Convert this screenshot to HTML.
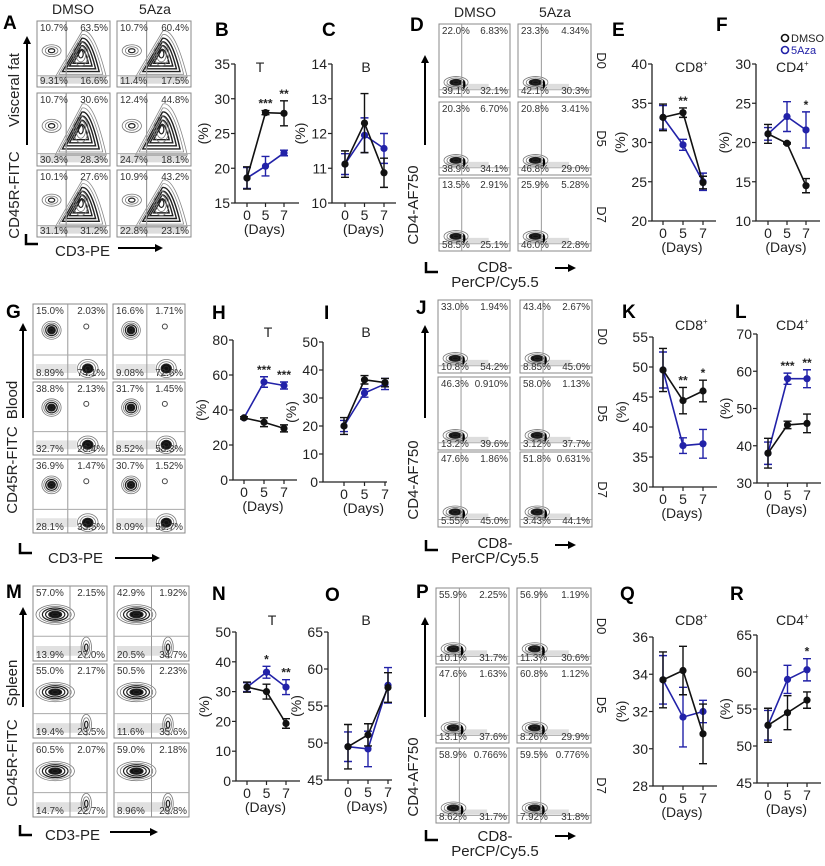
<!DOCTYPE html>
<html><head><meta charset="utf-8">
<style>
html,body{margin:0;padding:0;background:#fff;}
svg{display:block;font-family:"Liberation Sans",Arial,sans-serif;}
</style></head>
<body>
<svg id="fig" width="825" height="866" viewBox="0 0 825 866" xmlns="http://www.w3.org/2000/svg"></svg>
<script>
// ---- chart data ----
const days = ['0','5','7'];
const bDmso=[18.6,28.0,27.9], bDmsoErr=[1.6,0.3,1.8], bAza=[18.6,20.3,22.2], bAzaErr=[1.5,1.4,0.4];
const cDmso=[11.12,12.3,10.87], cDmsoErr=[0.38,0.85,0.42], cAza=[11.12,11.95,11.57], cAzaErr=[0.3,0.5,0.43];
const eDmso=[33.2,33.8,24.9], eDmsoErr=[1.7,0.6,0.8], eAza=[33.2,29.7,25.0], eAzaErr=[1.5,0.7,1.1];
const fDmso=[21.1,19.9,14.5], fDmsoErr=[1.2,0.1,0.9], fAza=[21.1,23.3,21.6], fAzaErr=[0.8,1.9,2.3];
const hDmso=[35.5,33.0,29.5], hDmsoErr=[0.6,2.5,2.0], hAza=[35.5,56.0,54.0], hAzaErr=[0.6,3.0,2.0];
const iDmso=[20.0,36.5,35.5], iDmsoErr=[3.0,1.5,1.5], iAza=[20.0,31.8,35.0], iAzaErr=[2.0,1.5,2.0];
const kDmso=[49.5,44.4,46.0], kDmsoErr=[3.6,2.2,1.8], kAza=[49.5,36.9,37.2], kAzaErr=[3.0,1.3,2.4];
const lDmso=[38.0,45.6,46.0], lDmsoErr=[4.0,1.0,2.5], lAza=[38.0,58.0,58.0], lAzaErr=[3.0,1.5,2.4];
const nDmso=[31.5,30.0,19.3], nDmsoErr=[1.7,2.5,1.6], nAza=[31.5,36.5,31.5], nAzaErr=[1.5,2.0,2.5];
const oDmso=[49.5,51.1,57.5], oDmsoErr=[3.0,1.5,2.0], oAza=[49.5,49.2,57.8], oAzaErr=[2.0,2.4,2.4];
const qDmso=[33.7,34.2,30.8], qDmsoErr=[1.5,1.3,1.6], qAza=[33.7,31.7,32.0], qAzaErr=[1.3,1.6,0.6];
const rDmso=[52.8,54.5,56.2], rDmsoErr=[2.3,2.3,1.1], rAza=[52.8,59.0,60.3], rAzaErr=[2.0,1.9,1.5];
const bTicks=[15,20,25,30,35], cTicks=[10,11,12,13,14], eTicks=[20,25,30,35,40], fTicks=[10,15,20,25,30];
const hTicks=[0,20,40,60,80], iTicks=[0,10,20,30,40,50], kTicks=[30,35,40,45,50,55], lTicks=[30,40,50,60,70];
const nTicks=[0,10,20,30,40,50], oTicks=[45,50,55,60,65], qTicks=[28,30,32,34,36], rTicks=[45,50,55,60,65];
const bStars=['','***','**'], cStars=['','',''], eStars=['','**',''], fStars=['','','*'];
const hStars=['','***','***'], iStars=['','',''], kStars=['','**','*'], lStars=['','***','**'];
const nStars=['','*','**'], oStars=['','',''], qStars=['','',''], rStars=['','','*'];
// flow percentages [UL,UR,LL,LR] per plot, row-major (DMSO, 5Aza)
const aPct=[['10.7%','63.5%','9.31%','16.6%'],['10.7%','60.4%','11.4%','17.5%'],['10.7%','30.6%','30.3%','28.3%'],['12.4%','44.8%','24.7%','18.1%'],['10.1%','27.6%','31.1%','31.2%'],['10.9%','43.2%','22.8%','23.1%']];
const dPct=[['22.0%','6.83%','39.1%','32.1%'],['23.3%','4.34%','42.1%','30.3%'],['20.3%','6.70%','38.9%','34.1%'],['20.8%','3.41%','46.8%','29.0%'],['13.5%','2.91%','58.5%','25.1%'],['25.9%','5.28%','46.0%','22.8%']];
const gPct=[['15.0%','2.03%','8.89%','74.1%'],['16.6%','1.71%','9.08%','72.6%'],['38.8%','2.13%','32.7%','26.4%'],['31.7%','1.45%','8.52%','58.3%'],['36.9%','1.47%','28.1%','33.5%'],['30.7%','1.52%','8.09%','59.7%']];
const jPct=[['33.0%','1.94%','10.8%','54.2%'],['43.4%','2.67%','8.85%','45.0%'],['46.3%','0.910%','13.2%','39.6%'],['58.0%','1.13%','3.12%','37.7%'],['47.6%','1.86%','5.55%','45.0%'],['51.8%','0.631%','3.43%','44.1%']];
const mPct=[['57.0%','2.15%','13.9%','27.0%'],['42.9%','1.92%','20.5%','34.7%'],['55.0%','2.17%','19.4%','23.5%'],['50.5%','2.23%','11.6%','35.6%'],['60.5%','2.07%','14.7%','22.7%'],['59.0%','2.18%','8.96%','29.8%']];
const pPct=[['55.9%','2.25%','10.1%','31.7%'],['56.9%','1.19%','11.3%','30.6%'],['47.6%','1.63%','13.1%','37.6%'],['60.8%','1.12%','8.26%','29.9%'],['58.9%','0.766%','8.62%','31.7%'],['59.5%','0.776%','7.92%','31.8%']];

const svg=document.getElementById('fig');
const NS='http://www.w3.org/2000/svg';
const BLUE='#2222a8';
function el(tag,attrs,parent){const e=document.createElementNS(NS,tag);for(const k in attrs)e.setAttribute(k,attrs[k]);(parent||svg).appendChild(e);return e;}
function txt(s,attrs,parent){const e=el('text',attrs,parent);e.textContent=s;return e;}

function chart(id,cfg,dm,dmE,az,azE,ticks,stars,title){
  const g=el('g',{});
  
  
  const lo=ticks[0],hi=ticks[ticks.length-1];
  const y=v=>cfg.bot-(v-lo)/(hi-lo)*(cfg.bot-cfg.top);
  const x=i=>cfg.cx0+i*cfg.step;
  const ax=el('path',{d:`M${cfg.ax},${cfg.top}V${cfg.bot}H${cfg.ax+64}`,stroke:'#222','stroke-width':1.3,fill:'none'},g);
  
  
  ticks.forEach(t=>{
    el('line',{x1:cfg.ax-4,x2:cfg.ax,y1:y(t),y2:y(t),stroke:'#222','stroke-width':1.2},g);
    const tl=txt(String(t),{x:cfg.ax-5,y:y(t)+5,'text-anchor':'end','font-size':14,fill:'#222'},g);
    
    
  });
  days.forEach((d,i)=>{
    el('line',{x1:x(i),x2:x(i),y1:cfg.bot,y2:cfg.bot+4,stroke:'#222','stroke-width':1.2},g);
    const tl=txt(d,{x:x(i),y:cfg.bot+17,'text-anchor':'middle','font-size':14,fill:'#222'},g);
    
    
  });
  const xt=txt('(Days)',{x:x(1)-1,y:cfg.bot+31,'text-anchor':'middle','font-size':14,fill:'#222'},g);
  
  
  const my=(cfg.top+cfg.bot)/2;
  const yt=txt('(%)',{x:cfg.ax-27,y:my,'text-anchor':'middle','font-size':14,fill:'#222',transform:`rotate(-90 ${cfg.ax-27} ${my})`},g);
  
  
  const ti=txt(title,{x:cfg.tx,y:cfg.ty,'text-anchor':'middle','font-size':14,fill:'#222'},g);
  
  
  if(cfg.sup){txt('+',{x:cfg.tx+14,y:cfg.ty-6,'font-size':8,fill:'#222'},g);}
  [[az,azE,BLUE,'5aza'],[dm,dmE,'#111','dmso']].forEach(([vals,errs,col,nm])=>{
    const pl=el('polyline',{points:vals.map((v,i)=>x(i)+','+y(v)).join(' '),stroke:col,'stroke-width':1.6,fill:'none'},g);
    
    
    vals.forEach((v,i)=>{
      const e=errs[i];
      el('path',{d:`M${x(i)},${y(v+e)}V${y(v-e)}M${x(i)-4},${y(v+e)}H${x(i)+4}M${x(i)-4},${y(v-e)}H${x(i)+4}`,stroke:col,'stroke-width':1.4,fill:'none'},g);
      const c=el('circle',{cx:x(i),cy:y(v),r:3.6,fill:col},g);
      
      
    });
  });
  stars.forEach((s,i)=>{
    if(!s)return;
    const top=Math.min(y(dm[i]+dmE[i]),y(az[i]+azE[i]));
    const st=txt(s,{x:x(i),y:top-3,'text-anchor':'middle','font-size':12,'font-weight':'bold',fill:'#222'},g);
    
    
  });
}

chart('b',{ax:235,top:64,bot:203,cx0:247,step:18.5,tx:260,ty:72},bDmso,bDmsoErr,bAza,bAzaErr,bTicks,bStars,'T');
chart('c',{ax:332,top:64,bot:203,cx0:345,step:19.5,tx:366,ty:72},cDmso,cDmsoErr,cAza,cAzaErr,cTicks,cStars,'B');
chart('e',{ax:652,top:64,bot:221,cx0:663,step:20,tx:689,ty:72,sup:1},eDmso,eDmsoErr,eAza,eAzaErr,eTicks,eStars,'CD8');
chart('f',{ax:756,top:64,bot:221,cx0:768,step:19,tx:790,ty:72,sup:1},fDmso,fDmsoErr,fAza,fAzaErr,fTicks,fStars,'CD4');
chart('h',{ax:233,top:340,bot:480,cx0:244,step:20,tx:268,ty:337},hDmso,hDmsoErr,hAza,hAzaErr,hTicks,hStars,'T');
chart('i',{ax:323,top:342,bot:482,cx0:344,step:20.5,tx:366,ty:337},iDmso,iDmsoErr,iAza,iAzaErr,iTicks,iStars,'B');
chart('k',{ax:653,top:337,bot:487,cx0:663,step:20,tx:689,ty:330,sup:1},kDmso,kDmsoErr,kAza,kAzaErr,kTicks,kStars,'CD8');
chart('l',{ax:757,top:334,bot:483,cx0:768,step:19.5,tx:790,ty:330,sup:1},lDmso,lDmsoErr,lAza,lAzaErr,lTicks,lStars,'CD4');
chart('n',{ax:236,top:632,bot:781,cx0:247,step:19.5,tx:272,ty:625},nDmso,nDmsoErr,nAza,nAzaErr,nTicks,nStars,'T');
chart('o',{ax:328,top:632,bot:780,cx0:348,step:20,tx:366,ty:625},oDmso,oDmsoErr,oAza,oAzaErr,oTicks,oStars,'B');
chart('q',{ax:653,top:637,bot:786,cx0:663,step:20,tx:689,ty:625,sup:1},qDmso,qDmsoErr,qAza,qAzaErr,qTicks,qStars,'CD8');
chart('r',{ax:757,top:635,bot:783,cx0:768,step:19.5,tx:790,ty:625,sup:1},rDmso,rDmsoErr,rAza,rAzaErr,rTicks,rStars,'CD4');

// legend (panel F)
const lg=el('g',{});


el('circle',{cx:785,cy:38,r:3.5,fill:'none',stroke:'#111','stroke-width':1.6},lg);
txt('DMSO',{x:791,y:42,'font-size':11,fill:'#222'},lg);
el('circle',{cx:785,cy:50,r:3.5,fill:'none',stroke:BLUE,'stroke-width':1.6},lg);
txt('5Aza',{x:791,y:54,'font-size':11,fill:BLUE},lg);

// ---- flow plots ----
function flow(id,cols,rows,pcts,type,dlabels){
  const g=el('g',{});
  
  
  let k=0;
  rows.forEach(([y0,y1],ri)=>{
    cols.forEach(([x0,x1])=>{
      const w=x1-x0,h=y1-y0,p=pcts[k++];
      const pg=el('g',{},g);
      
      
      el('rect',{x:x0,y:y0,width:w,height:h,fill:'#fff',stroke:'#888','stroke-width':1},pg);
      let vx,hy;
      if(type==='A'){vx=.4;hy=.83;}else if(type==='D'){vx=.32;hy=.9;}else if(type==='G'){vx=.47;hy=.68;}else{vx=.5;hy=.67;}
      const X=f=>x0+w*f, Y=f=>y0+h*f;
      // ellipse rings: outer grey outlines, inner filled dark
      const E=(cx,cy,rx,ry,n,fillCore)=>{for(let i=0;i<n;i++){const f=1-i/n;const core=i>=n-2;el('ellipse',{cx:X(cx),cy:Y(cy),rx:w*rx*f,ry:h*ry*f,fill:core&&fillCore?'#111':'none',stroke:i<2?'#777':'#222','stroke-width':i<2?0.8:1.2},pg);}};
      if(type==='A'){
        el('rect',{x:x0+3,y:Y(.83),width:w*.9,height:h*.12,fill:'#ddd'},pg);
        for(let i=0;i<6;i++){const s=1-i*0.14;const cx=.6,cy=.55;
          const pt=(a,b)=>X(cx+(a-cx)*s)+','+Y(cy+(b-cy)*s);
          el('path',{d:`M${pt(.25,.85)}L${pt(.62,.15)}Q${pt(.78,.1)} ${pt(.95,.85)}Z`,fill:'none',stroke:i<2?'#888':'#222','stroke-width':i<2?0.8:1.4},pg);}
        E(.6,.5,.1,.18,3,false);
        E(.2,.45,.13,.09,3,false);
        el('line',{x1:X(vx),x2:X(vx),y1:y0,y2:y1,stroke:'#999','stroke-width':1},pg);
      }else if(type==='G'){
        el('rect',{x:x0+3,y:Y(.8),width:w*.55,height:h*.12,fill:'#e4e4e4'},pg);
        E(.25,.35,.13,.12,5,true);E(.74,.86,.14,.12,4,true);
        el('circle',{cx:X(.72),cy:Y(.3),r:2.5,fill:'none',stroke:'#444'},pg);
      }else if(type==='M'){
        el('rect',{x:x0+3,y:Y(.8),width:w*.7,height:h*.13,fill:'#e0e0e0'},pg);
        E(.3,.38,.26,.13,6,true);E(.72,.82,.07,.14,3,false);
      }else{
        el('rect',{x:X(.1),y:Y(.82),width:w*.6,height:h*.07,fill:'#ddd'},pg);
        E(.24,.8,.17,.08,4,true);
        el('path',{d:`M${X(.34)},${Y(.76)}a5,6 0 0,1 0,${h*.14}z`,fill:'#000'},pg);
      }
      el('line',{x1:X(vx),x2:X(vx),y1:y0,y2:y1,stroke:'#999','stroke-width':1},pg);
      el('line',{x1:x0,x2:x1,y1:Y(hy),y2:Y(hy),stroke:'#aaa','stroke-width':1},pg);
      const fs=9.8;
      txt(p[0],{x:x0+3,y:y0+10,'font-size':fs,fill:'#333'},pg);
      txt(p[1],{x:x1-2,y:y0+10,'font-size':fs,'text-anchor':'end',fill:'#333'},pg);
      txt(p[2],{x:x0+3,y:y1-3,'font-size':fs,fill:'#333'},pg);
      txt(p[3],{x:x1-2,y:y1-3,'font-size':fs,'text-anchor':'end',fill:'#333'},pg);
    });
    if(dlabels){
      const cy=(y0+y1)/2, lx=cols[1][1]+6;
      const t=txt(dlabels[ri],{x:lx,y:cy,'font-size':13,fill:'#222',transform:`rotate(90 ${lx} ${cy})`,'text-anchor':'middle'},g);
      
      
    }
  });
}
const DL=['D0','D5','D7'];
flow('a',[[37,110],[117,191]],[[21,87],[93,166],[170,237]],aPct,'A');
flow('d',[[439,510],[518,591]],[[24,97],[102,175],[178,251]],dPct,'D',DL);
flow('g',[[33,107],[113,185]],[[304,379],[382,455],[459,533]],gPct,'G');
flow('j',[[438,510],[520,592]],[[300,373],[377,450],[452,527]],jPct,'D',DL);
flow('m',[[33,107],[114,189]],[[586,661],[664,738],[743,817]],mPct,'M');
flow('p',[[436,509],[517,591]],[[588,664],[667,743],[748,823]],pPct,'D',DL);

// column headers
[['DMSO',73,14],['5Aza',155,14],['DMSO',475,17],['5Aza',555,17]].forEach(([s,x,y])=>{
  const t=txt(s,{x:x,y:y,'text-anchor':'middle','font-size':14,fill:'#222'});
  
  
});

// axis decorations for flow grids
function arrowV(x,y1,y2){el('line',{x1:x,x2:x,y1:y1,y2:y2+6,stroke:'#000','stroke-width':2});el('path',{d:`M${x-4},${y2+8}L${x},${y2}L${x+4},${y2+8}z`,fill:'#000'});}
function arrowH(x1,x2,y){el('line',{x1:x1,x2:x2-6,y1:y,y2:y,stroke:'#000','stroke-width':2});el('path',{d:`M${x2-8},${y-4}L${x2},${y}L${x2-8},${y+4}z`,fill:'#000'});}
function Lshape(x,y){el('path',{d:`M${x},${y}V${y+10}H${x+12}`,stroke:'#000','stroke-width':2.5,fill:'none'});}
function vtext(s,x,y,name,fs){const t=txt(s,{x:x,y:y,'text-anchor':'middle','font-size':fs||15,fill:'#222',transform:`rotate(-90 ${x} ${y})`});}
function htext(s,x,y,name){const t=txt(s,{x:x,y:y,'font-size':15,fill:'#222'});}

arrowV(27,145,36);vtext('Visceral fat',19,90,'tissue-label');vtext('CD45R-FITC',19,195,'y-axis-title');Lshape(26,234);htext('CD3-PE',55,256,'x-axis-title');arrowH(118,163,248);
arrowV(23,418,323);vtext('Blood',17,400,'tissue-label');vtext('CD45R-FITC',17,470,'y-axis-title');Lshape(20,543);htext('CD3-PE',48,563,'x-axis-title');arrowH(115,160,558);
arrowV(23,707,607);vtext('Spleen',17,683,'tissue-label');vtext('CD45R-FITC',17,763,'y-axis-title');Lshape(20,825);htext('CD3-PE',45,840,'x-axis-title');arrowH(110,158,832);
[[55,145,205,262,272,268],[325,418,480,540,548,545],[617,717,777,830,841,836]].forEach(([yt,yb,ymid,ly,ty,ay])=>{
  arrowV(425,yb,yt);vtext('CD4-AF750',418,ymid,'y-axis-title');
  Lshape(426,ly);
  const t=txt('CD8-',{x:495,y:ty,'text-anchor':'middle','font-size':15,fill:'#222'});
  const t2=txt('PerCP/Cy5.5',{x:495,y:ty+15,'text-anchor':'middle','font-size':15,fill:'#222'});
  arrowH(555,576,ay);
});

// panel letters
[['A',3,29],['B',215,36],['C',322,36],['D',410,31],['E',612,36],['F',716,31],
 ['G',6,318],['H',212,319],['I',324,319],['J',416,314],['K',622,318],['L',735,318],
 ['M',6,598],['N',212,600],['O',325,601],['P',416,598],['Q',620,600],['R',730,600]].forEach(([s,x,y])=>{
  const t=txt(s,{x:x,y:y,'font-size':19,'font-weight':'bold',fill:'#000'});
  
  
});
</script>
</body></html>
